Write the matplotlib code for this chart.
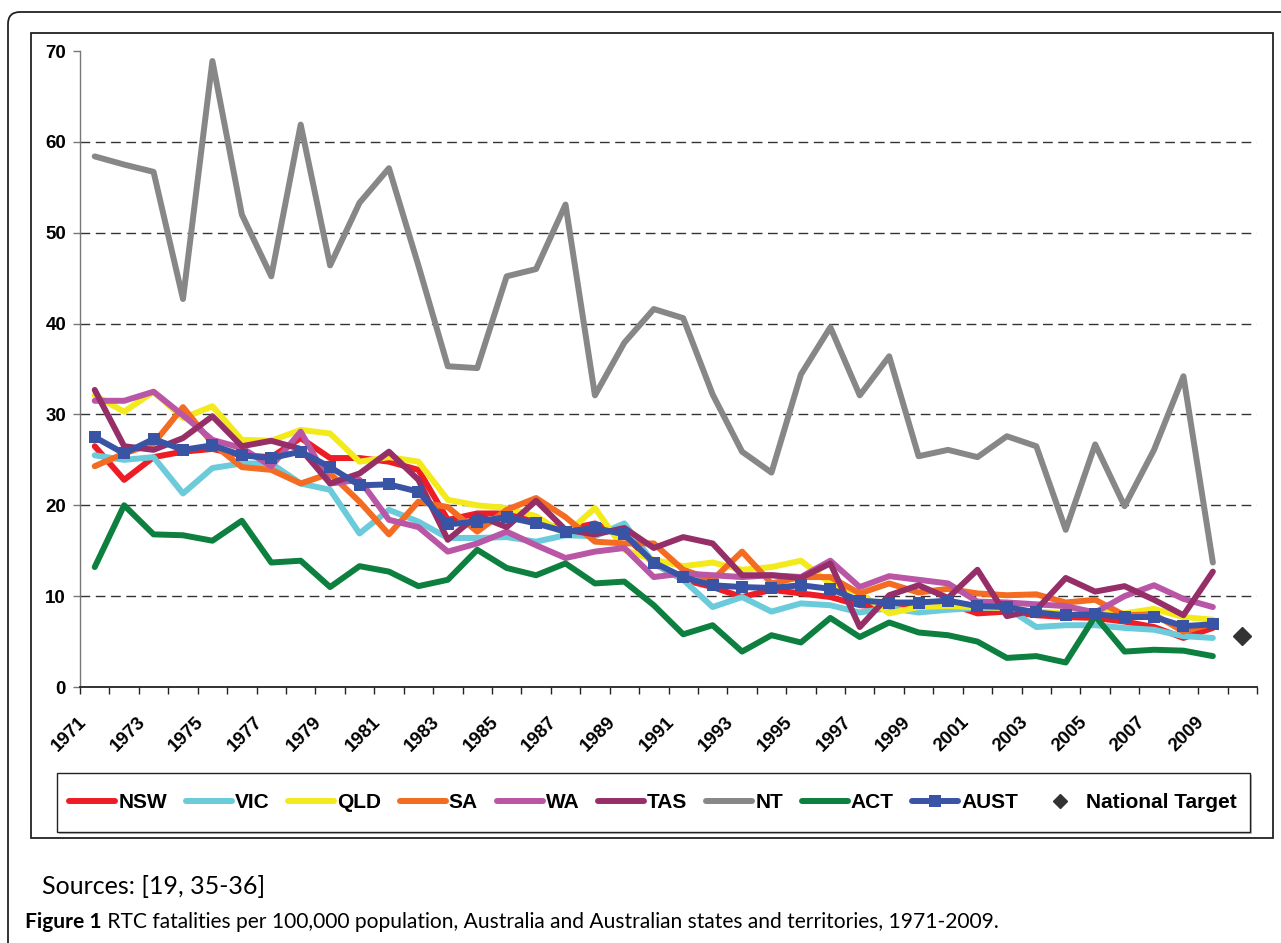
import numpy as np
import matplotlib
matplotlib.use("Agg")
import matplotlib.pyplot as plt
from matplotlib.patches import FancyBboxPatch, Rectangle
from matplotlib.lines import Line2D
from matplotlib.transforms import ScaledTranslation

plt.rcParams["font.family"] = ["Liberation Sans", "DejaVu Sans"]

years = list(range(1971, 2010))

nsw = [26.5, 22.8, 25.3, 25.9, 26.2, 25.5, 25.3, 27.4, 25.2, 25.2,
       24.8, 23.9, 18.4, 19.1, 19.1, 18.2, 17.3, 18.0, 16.7, 13.6,
       11.8, 11.0, 9.9, 10.7, 10.3, 9.9, 9.0, 8.8, 9.0, 9.2,
       8.1, 8.3, 7.9, 7.7, 7.6, 7.2, 6.6, 5.4, 6.5]
vic = [25.5, 25.0, 25.3, 21.3, 24.1, 24.6, 24.6, 22.4, 21.7, 16.9,
       19.5, 18.2, 16.4, 16.4, 16.5, 16.0, 16.7, 16.6, 18.0, 13.6,
       11.8, 8.8, 9.9, 8.3, 9.2, 9.0, 8.2, 8.7, 8.2, 8.5,
       8.7, 8.7, 6.6, 6.8, 6.8, 6.5, 6.3, 5.6, 5.4]
qld = [32.1, 30.3, 32.5, 29.6, 30.9, 27.2, 27.1, 28.3, 27.9, 24.8,
       25.3, 24.8, 20.6, 20.0, 19.7, 18.8, 16.8, 19.7, 15.1, 14.0,
       13.3, 13.7, 12.9, 13.2, 13.9, 11.4, 10.3, 8.1, 8.8, 8.9,
       8.8, 8.7, 8.3, 8.1, 8.2, 8.1, 8.6, 7.7, 7.4]
sa = [24.3, 25.7, 26.8, 30.8, 26.8, 24.2, 23.9, 22.4, 23.5, 20.4,
      16.8, 20.4, 19.8, 17.1, 19.5, 20.8, 18.7, 16.0, 15.8, 15.8,
      12.9, 11.8, 14.9, 11.4, 12.1, 12.1, 10.3, 11.4, 10.4, 10.8,
      10.3, 10.1, 10.2, 9.3, 9.6, 7.9, 8.0, 6.1, 7.0]
wa = [31.5, 31.5, 32.5, 29.9, 27.2, 26.3, 24.3, 28.1, 22.4, 22.8,
      18.4, 17.6, 14.9, 15.8, 17.1, 15.6, 14.2, 14.9, 15.3, 12.1,
      12.5, 12.3, 12.1, 12.3, 12.1, 13.9, 11.0, 12.2, 11.8, 11.4,
      9.4, 9.3, 9.1, 8.9, 8.2, 10.0, 11.2, 9.7, 8.8]
tas = [32.7, 26.5, 26.1, 27.4, 29.8, 26.5, 27.1, 26.2, 22.4, 23.5,
       25.9, 22.8, 16.2, 18.9, 17.6, 20.5, 17.3, 16.8, 17.5, 15.3,
       16.5, 15.8, 12.3, 12.3, 12.0, 13.6, 6.6, 10.1, 11.2, 9.8,
       12.9, 7.8, 8.5, 12.0, 10.5, 11.1, 9.6, 7.9, 12.7]
nt = [58.4, 57.5, 56.7, 42.7, 68.9, 52.0, 45.2, 61.9, 46.4, 53.3,
      57.1, 46.4, 35.3, 35.1, 45.2, 46.0, 53.1, 32.1, 37.9, 41.6,
      40.6, 32.2, 25.9, 23.6, 34.4, 39.6, 32.1, 36.4, 25.4, 26.1,
      25.3, 27.6, 26.5, 17.3, 26.7, 19.9, 26.1, 34.2, 13.7]
act = [13.2, 20.0, 16.8, 16.7, 16.1, 18.3, 13.7, 13.9, 11.0, 13.3,
       12.7, 11.1, 11.8, 15.1, 13.1, 12.3, 13.6, 11.4, 11.6, 9.0,
       5.8, 6.8, 3.9, 5.7, 4.9, 7.6, 5.5, 7.1, 6.0, 5.7,
       5.0, 3.2, 3.4, 2.7, 7.8, 3.9, 4.1, 4.0, 3.4]
aust = [27.5, 25.7, 27.3, 26.1, 26.6, 25.5, 25.2, 25.9, 24.2, 22.2,
        22.3, 21.5, 17.9, 18.2, 18.7, 18.0, 17.1, 17.5, 16.8, 13.7,
        12.1, 11.2, 11.0, 10.9, 11.2, 10.8, 9.5, 9.3, 9.3, 9.5,
        8.9, 8.8, 8.2, 7.9, 8.0, 7.7, 7.7, 6.7, 6.9]
target_year = 2010
target_value = 5.6

names = ["NSW", "VIC", "QLD", "SA", "WA", "TAS", "NT", "ACT", "AUST"]
series = [nsw, vic, qld, sa, wa, tas, nt, act, aust]
colors = ["#EE1D25", "#6BCBDB", "#F3EA1C", "#F36C22", "#BA56A6",
          "#962F68", "#878787", "#0D8040", "#3953A5"]

W, H = 1281, 943
fig = plt.figure(figsize=(W / 100, H / 100), dpi=100)

# outer rounded panel and chart frame (pixel coords -> inches)
outer = FancyBboxPatch((0.08, -0.5), 13.5, 9.43 - 0.12 + 0.5,
                       boxstyle="round,pad=0,rounding_size=0.12",
                       transform=fig.dpi_scale_trans, fill=False,
                       ec="#222222", lw=1.3)
fig.add_artist(outer)
frame = Rectangle((0.31, (H - 838) / 100), (1273 - 31) / 100, (838 - 33) / 100,
                  transform=fig.dpi_scale_trans, fill=False, ec="#222222", lw=1.3)
fig.add_artist(frame)

ax = fig.add_axes([80 / W, 1 - 687 / H, (1257 - 80) / W, (687 - 51) / H])

for yv in range(10, 70, 10):
    ax.axhline(yv, color="#333333", lw=1.0, dashes=(7, 4), zorder=1)

for name, vals, col in zip(names, series, colors):
    kw = {}
    if name == "AUST":
        kw = dict(marker="s", markersize=8, markeredgewidth=0)
    ax.plot(years, vals, color=col, lw=4.3, solid_joinstyle="round",
            solid_capstyle="round", zorder=3, **kw)
ax.plot([target_year], [target_value], linestyle="none", marker="D",
        markersize=9, color="#333333", zorder=4)

ax.set_xlim(1970.5, 2010.5)
ax.set_ylim(0, 70)
for s in ["top", "right"]:
    ax.spines[s].set_visible(False)
ax.spines["left"].set_color("#777777")
ax.spines["left"].set_linewidth(1.0)
ax.spines["bottom"].set_color("#222222")
ax.spines["bottom"].set_linewidth(1.3)

ax.set_yticks(range(0, 71, 10))
ax.set_yticklabels([str(v) for v in range(0, 71, 10)], fontweight="bold", fontsize=13.5)
ax.tick_params(axis="y", length=5, width=1, color="#777777", pad=5)

ax.set_xticks(range(1971, 2010, 2))
ax.set_xticklabels([str(y) for y in range(1971, 2010, 2)], rotation=45,
                   ha="right", va="top", fontweight="bold", fontsize=13.5)
ax.set_xticks(np.arange(1970.5, 2011, 1), minor=True)
ax.tick_params(axis="x", which="major", length=0, pad=19)
ax.tick_params(axis="x", which="minor", length=5, width=1, color="#222222")
off = ScaledTranslation(-0.05, 0, fig.dpi_scale_trans)
for lab in ax.get_xticklabels():
    lab.set_transform(lab.get_transform() + off)

# legend
shadow = Rectangle((0.59, (H - 834) / 100), (1250 - 57) / 100, (832 - 773) / 100,
                   transform=fig.dpi_scale_trans, fc="#bbbbbb", ec="none")
fig.add_artist(shadow)
lbox = Rectangle((0.57, (H - 832) / 100), (1250 - 57) / 100, (832 - 773) / 100,
                 transform=fig.dpi_scale_trans, fc="white", ec="#222222", lw=1.0)
fig.add_artist(lbox)
handles = []
for name, col in zip(names, colors):
    if name == "AUST":
        h = Line2D([], [], color=col, lw=4.3, marker="s", markersize=8,
                   markeredgewidth=0, solid_capstyle="round")
    else:
        h = Line2D([], [], color=col, lw=4.3, solid_capstyle="round")
    handles.append(h)
handles.append(Line2D([], [], linestyle="none", marker="D", markersize=7,
                      color="#333333"))
labels = names + ["National Target"]
fig.legend(handles, labels, loc="center",
           bbox_to_anchor=(653 / W, 1 - 802.5 / H),
           ncol=10, frameon=False, prop=dict(weight="bold", size=15),
           handlelength=2.2, handletextpad=0.15, columnspacing=0.9,
           borderpad=0)

fig.text(42 / W, 1 - 894 / H, "Sources: [19, 35-36]", fontsize=18,
         family=["Lato", "DejaVu Sans"], va="baseline")
capfont = ["Lato", "DejaVu Sans"]
t1 = fig.text(25 / W, 1 - 928 / H, "Figure 1", fontsize=15.1, family=capfont,
              fontweight="bold", va="baseline")
ax.annotate(" RTC fatalities per 100,000 population, Australia and Australian states and territories, 1971-2009.",
            xy=(1, 0), xycoords=t1, va="bottom", ha="left", fontsize=15.1,
            family=capfont, annotation_clip=False)

fig.savefig("out.png", dpi=100)
